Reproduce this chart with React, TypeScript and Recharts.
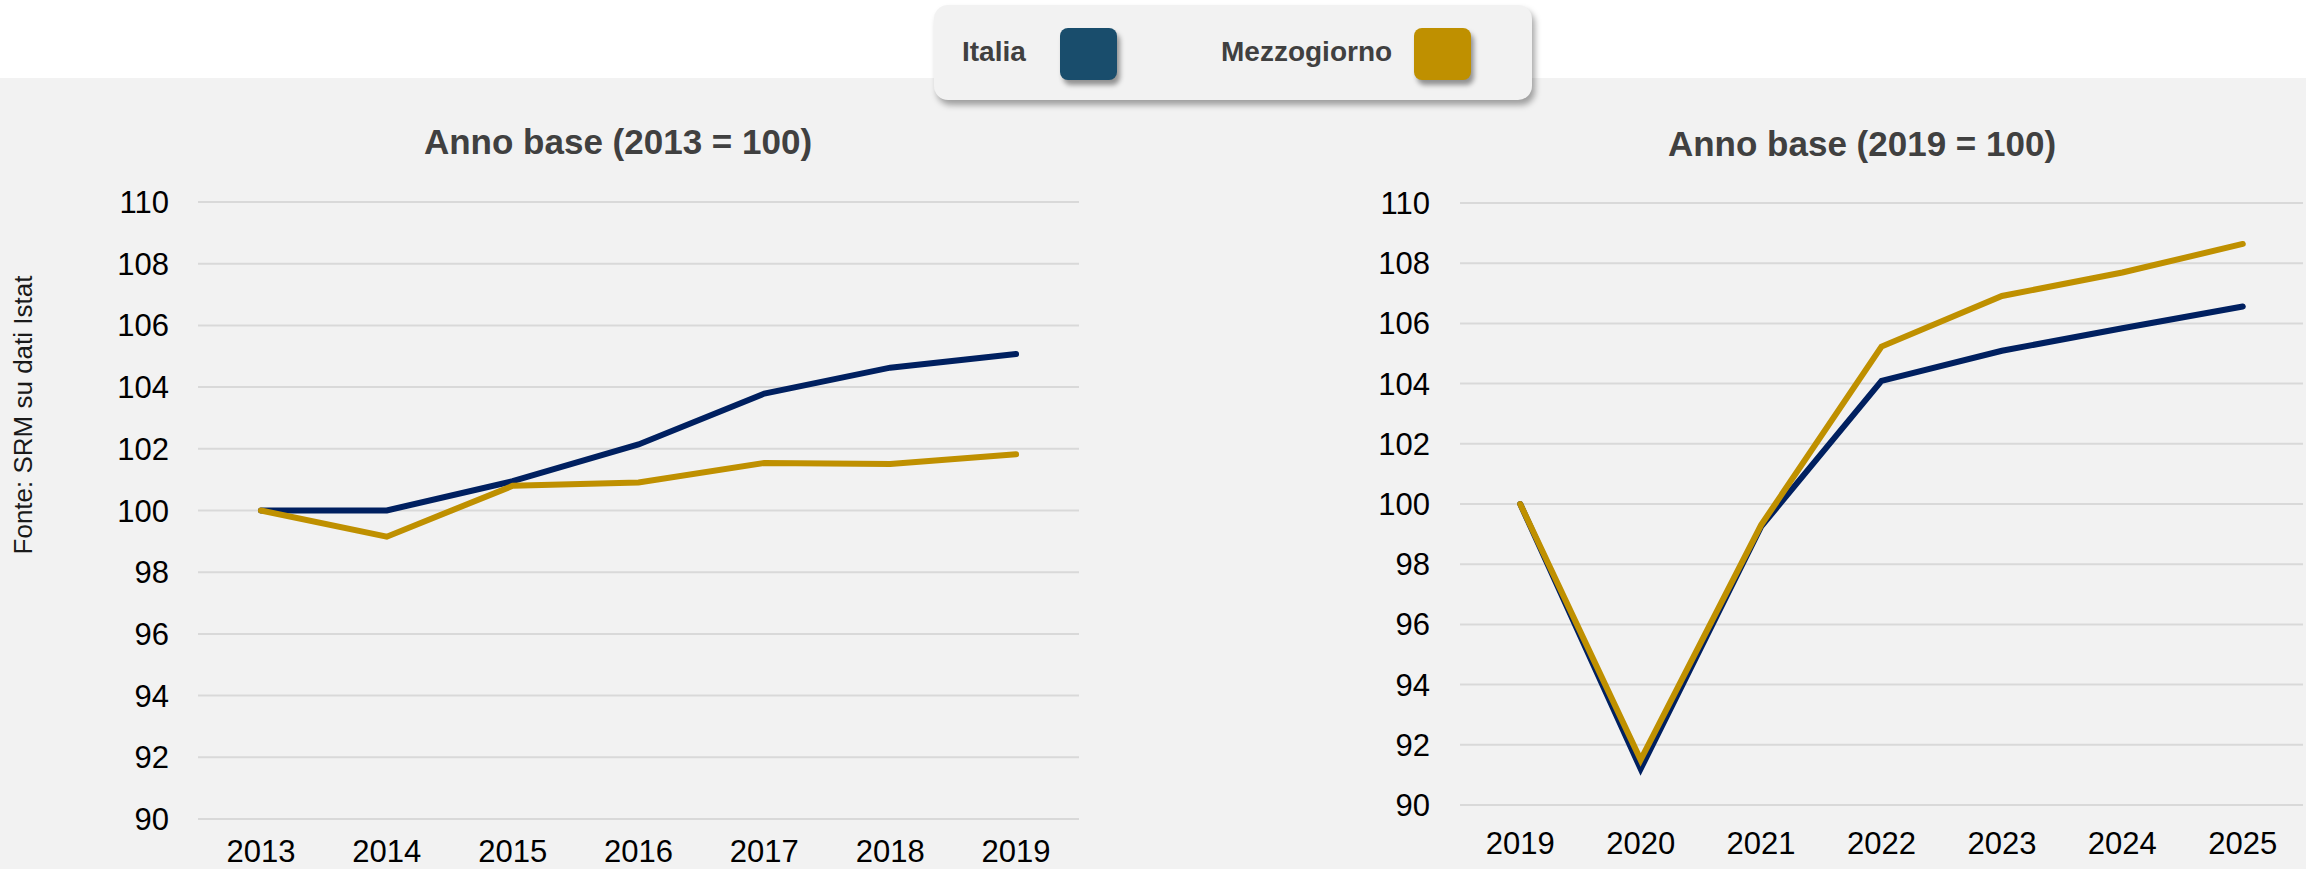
import { LineChart, Line, XAxis, YAxis, CartesianGrid } from 'recharts';

const yearsA = ['2013', '2014', '2015', '2016', '2017', '2018', '2019'];
const italiaA = [100, 100, 100.95, 102.14, 103.79, 104.63, 105.07];
const mezzoA = [100, 99.15, 100.8, 100.91, 101.54, 101.51, 101.82];

const yearsB = ['2019', '2020', '2021', '2022', '2023', '2024', '2025'];
const italiaB = [100, 91.2, 99.25, 104.09, 105.09, 105.84, 106.56];
const mezzoB = [100, 91.5, 99.3, 105.23, 106.91, 107.69, 108.64];

const yTicks = [90, 92, 94, 96, 98, 100, 102, 104, 106, 108, 110];

const FONT = '"Liberation Sans", Arial, sans-serif';
const NAVY = '#002060';
const GOLD = '#bf9000';

const toRows = (years: string[], it: number[], mz: number[]) =>
  years.map((year, i) => ({ year, italia: it[i], mezzo: mz[i] }));

const dataA = toRows(yearsA, italiaA, mezzoA);
const dataB = toRows(yearsB, italiaB, mezzoB);

interface PanelProps {
  data: { year: string; italia: number; mezzo: number }[];
  width: number;
  yAxisWidth: number;
  top: number;
  right: number;
  xAxisHeight: number;
  yTickMargin: number;
  xTickMargin: number;
}

function Panel({ data, width, yAxisWidth, top, right, xAxisHeight, yTickMargin, xTickMargin }: PanelProps) {
  const tick = { fill: '#000', fontSize: 31, fontFamily: FONT };
  return (
    <LineChart
      width={width}
      height={869}
      data={data}
      margin={{ top, right, bottom: 0, left: 0 }}
    >
      <CartesianGrid vertical={false} stroke="#d9d9d9" strokeWidth={2} />
      <XAxis
        dataKey="year"
        scale="band"
        axisLine={false}
        tickLine={false}
        tickSize={0}
        tickMargin={xTickMargin}
        height={xAxisHeight}
        tick={tick}
        interval={0}
      />
      <YAxis
        domain={[90, 110]}
        ticks={yTicks}
        axisLine={false}
        tickLine={false}
        tickSize={0}
        tickMargin={yTickMargin}
        width={yAxisWidth}
        tick={tick}
        interval={0}
      />
      <Line
        type="linear"
        dataKey="italia"
        stroke={NAVY}
        strokeWidth={6}
        strokeLinecap="round"
        dot={false}
        isAnimationActive={false}
      />
      <Line
        type="linear"
        dataKey="mezzo"
        stroke={GOLD}
        strokeWidth={6}
        strokeLinecap="round"
        dot={false}
        isAnimationActive={false}
      />
    </LineChart>
  );
}

const titleStyle = (cx: number, cy: number): React.CSSProperties => ({
  position: 'absolute',
  left: cx - 300,
  top: cy - 20,
  width: 600,
  height: 40,
  lineHeight: '40px',
  textAlign: 'center',
  fontFamily: FONT,
  fontWeight: 'bold',
  fontSize: 35,
  color: '#404040',
  whiteSpace: 'nowrap',
});

const legendText: React.CSSProperties = {
  position: 'absolute',
  top: 31,
  height: 32,
  lineHeight: '32px',
  fontFamily: FONT,
  fontWeight: 'bold',
  fontSize: 28,
  color: '#404040',
  whiteSpace: 'nowrap',
};

const swatch = (left: number, color: string): React.CSSProperties => ({
  position: 'absolute',
  left,
  top: 23,
  width: 57,
  height: 52,
  borderRadius: 8,
  background: color,
  boxShadow: '3px 5px 5px rgba(0,0,0,0.4)',
});

export default function App() {
  return (
    <div
      style={{
        position: 'absolute',
        left: 0,
        top: 0,
        width: 2306,
        height: 869,
        background: '#ffffff',
        overflow: 'hidden',
        fontFamily: FONT,
      }}
    >
      <div style={{ position: 'absolute', left: 0, top: 78, width: 2306, height: 791, background: '#f2f2f2' }} />

      <div style={{ position: 'absolute', left: 0, top: 0 }}>
        <Panel
          data={dataA}
          width={1100}
          yAxisWidth={198}
          top={202}
          right={21}
          xAxisHeight={50}
          yTickMargin={29}
          xTickMargin={21}
        />
      </div>
      <div style={{ position: 'absolute', left: 1230, top: 0 }}>
        <Panel
          data={dataB}
          width={1076}
          yAxisWidth={230}
          top={203}
          right={3}
          xAxisHeight={64}
          yTickMargin={30}
          xTickMargin={27}
        />
      </div>

      <div style={titleStyle(618, 142)}>Anno base (2013 = 100)</div>
      <div style={titleStyle(1862, 144)}>Anno base (2019 = 100)</div>

      <div
        style={{
          position: 'absolute',
          left: 23 - 150,
          top: 415 - 15,
          width: 300,
          height: 30,
          lineHeight: '30px',
          textAlign: 'center',
          transform: 'rotate(-90deg)',
          fontFamily: FONT,
          fontSize: 26,
          color: '#1a1a1a',
          whiteSpace: 'nowrap',
        }}
      >
        Fonte: SRM su dati Istat
      </div>

      <div
        style={{
          position: 'absolute',
          left: 934,
          top: 5,
          width: 598,
          height: 95,
          borderRadius: 14,
          background: '#f2f2f2',
          boxShadow: '3px 5px 6px rgba(0,0,0,0.35)',
        }}
      >
        <div style={{ ...legendText, left: 28 }}>Italia</div>
        <div style={swatch(126, '#194d6c')} />
        <div style={{ ...legendText, left: 287 }}>Mezzogiorno</div>
        <div style={swatch(480, GOLD)} />
      </div>
    </div>
  );
}
